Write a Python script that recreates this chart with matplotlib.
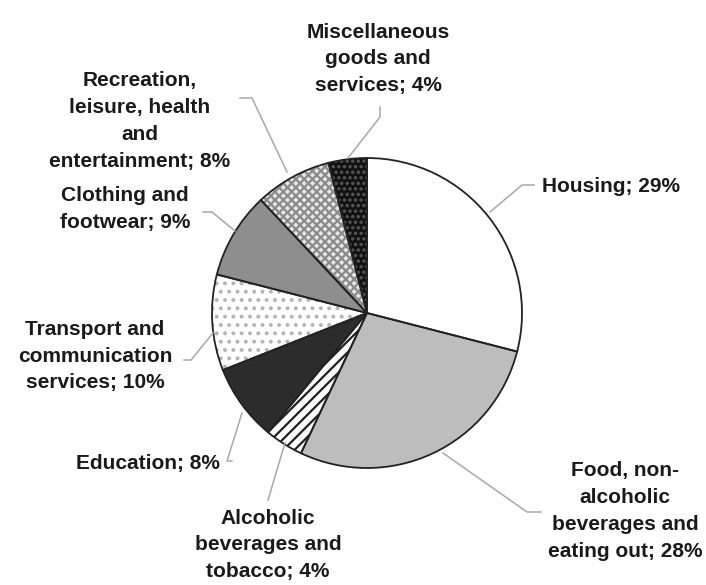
import matplotlib
matplotlib.use("Agg")
import matplotlib.pyplot as plt

# Household expenditure shares (%), clockwise from 12 o'clock
categories = [
    "Housing",
    "Food, non-\nalcoholic\nbeverages and\neating out",
    "Alcoholic\nbeverages and\ntobacco",
    "Education",
    "Transport and\ncommunication\nservices",
    "Clothing and\nfootwear",
    "Recreation,\nleisure, health\nand\nentertainment",
    "Miscellaneous\ngoods and\nservices",
]
shares = [29, 28, 4, 8, 10, 9, 8, 4]

# slice fill styles: (face colour, hatch, hatch colour)
styles = [
    ("white", None, "white"),
    ("#bdbdbd", None, "#bdbdbd"),
    ("white", "///", "#202020"),
    ("#2c2c2c", None, "#2c2c2c"),
    ("white", "..", "#b4b4b4"),
    ("#8e8e8e", None, "#8e8e8e"),
    ("#e6e6e6", "xxxx", "#8a8a8a"),
    ("#111111", "...", "#5a5a5a"),
]

W, H = 706, 585
fig = plt.figure(figsize=(W / 100, H / 100), dpi=100)
ax = fig.add_axes([0, 0, 1, 1])

plt.rcParams["hatch.linewidth"] = 1.6

cx, cy, r = 367, H - 313, 155

wedges, _ = ax.pie(shares, startangle=90, counterclock=False,
                   center=(cx, cy), radius=r, frame=True)
for w, (fc, hatch, hc) in zip(wedges, styles):
    w.set_facecolor(fc)
    w.set_edgecolor(hc)
    w.set_linewidth(0)
    if hatch:
        w.set_hatch(hatch)

# outlines on top
ax.pie(shares, startangle=90, counterclock=False,
       center=(cx, cy), radius=r, frame=True,
       wedgeprops=dict(fill=False, edgecolor="#222222", linewidth=1.3))
ax.set_xlim(0, W)
ax.set_ylim(0, H)
ax.set_aspect("equal")
ax.axis("off")

# label anchors (x, y from top) and leader polylines
label_pos = [
    (611, 186),
    (625, 511),
    (268, 545),
    (148, 464),
    (95, 356),
    (125, 209),
    (140, 121),
    (378, 59),
]
leaders = [
    [(534, 185), (522, 185), (490, 212)],
    [(541, 512), (527, 512), (443, 453)],
    [(268, 500), (285, 443)],
    [(232, 461), (227, 461), (242, 413)],
    [(184, 360), (191, 360), (213, 333)],
    [(203, 212), (212, 212), (235, 231)],
    [(240, 98), (252, 98), (287, 172)],
    [(380, 107), (380, 117), (348, 158)],
]

for name, val, (tx, ty), pts in zip(categories, shares, label_pos, leaders):
    xs = [p[0] for p in pts]
    ys = [H - p[1] for p in pts]
    ax.plot(xs, ys, color="#a8a8a8", lw=1.1, zorder=1)
    ax.text(tx, H - ty, f"{name}; {val}%", ha="center", va="center",
            fontsize=15, fontweight="bold", family="Liberation Sans",
            color="#1a1a1a", linespacing=1.52, multialignment="center")

fig.savefig("out.png", dpi=100, facecolor="white")
